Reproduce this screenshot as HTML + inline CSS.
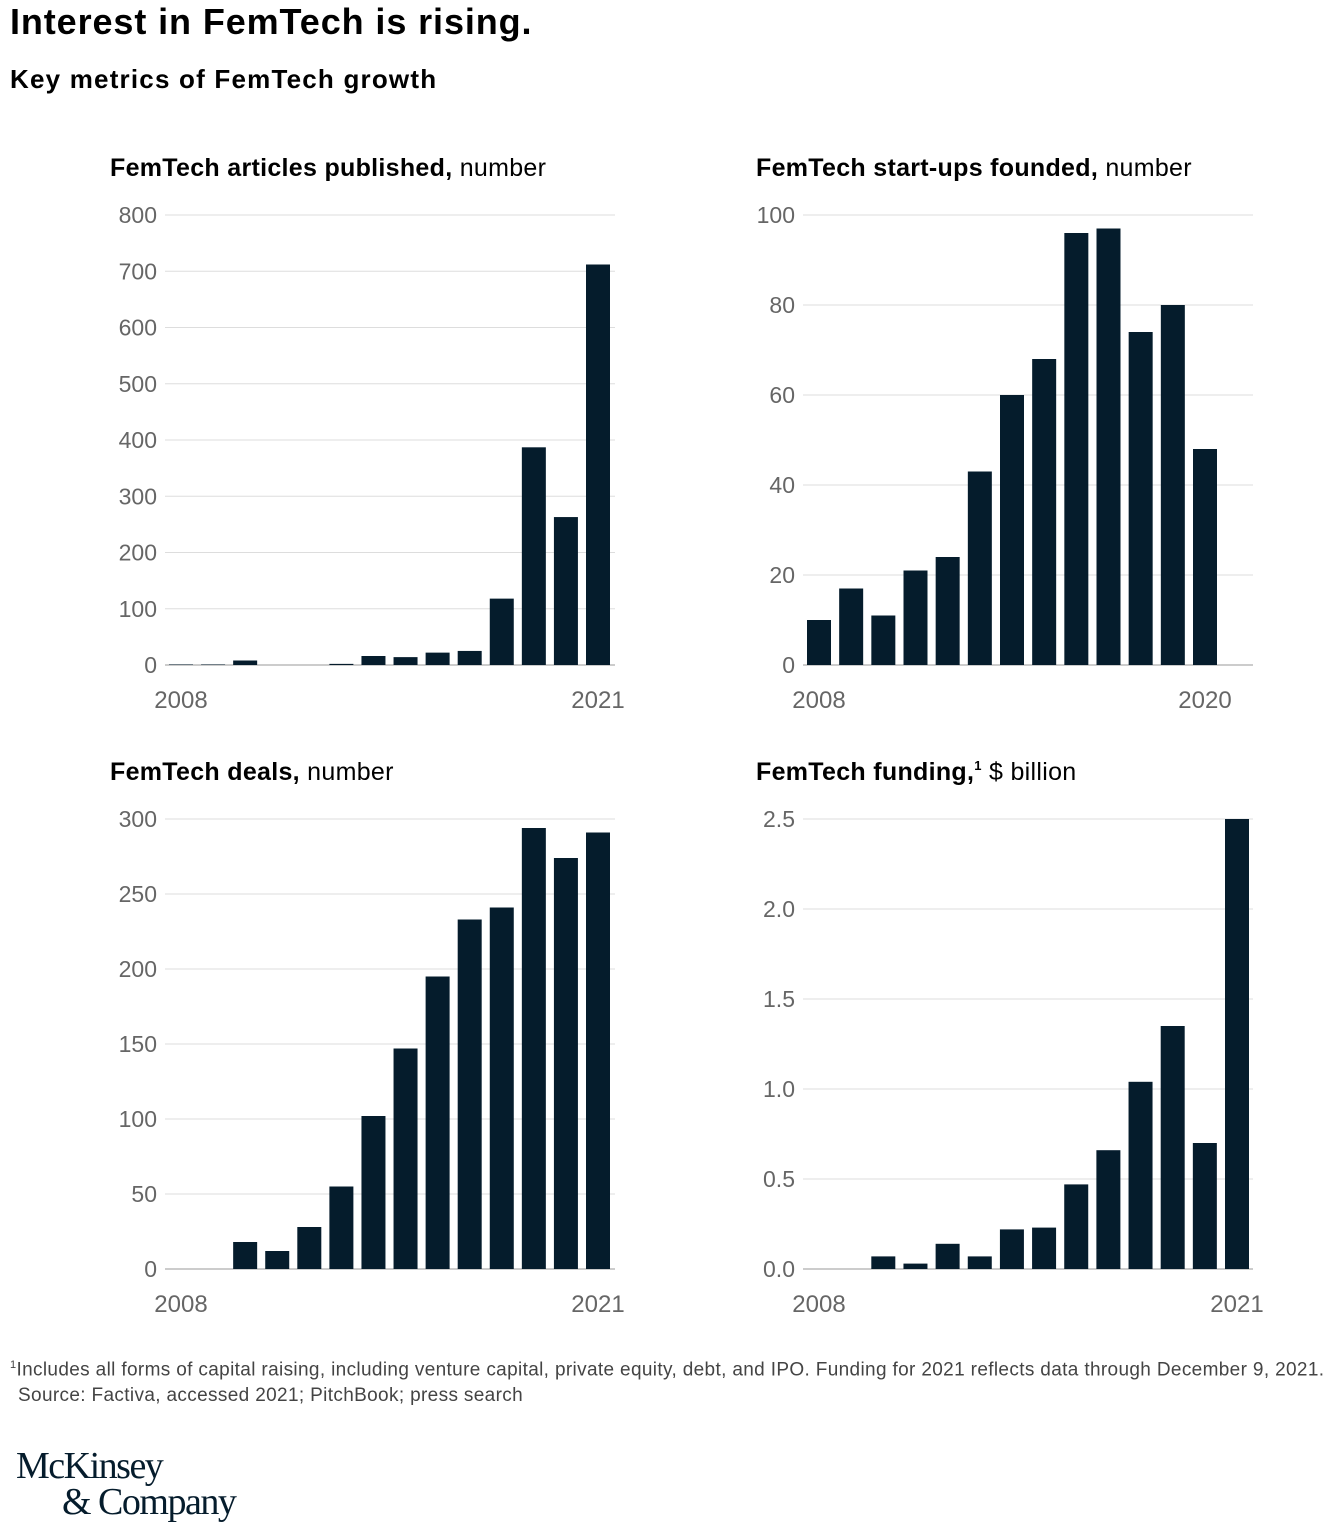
<!DOCTYPE html>
<html><head><meta charset="utf-8">
<style>
body{margin:0;width:1340px;height:1536px;background:#fff;font-family:"Liberation Sans",sans-serif;color:#000;position:relative;overflow:hidden}
.t{position:absolute;white-space:nowrap}
svg{position:absolute;left:0;top:0}
</style></head><body>
<div class="t" style="left:10px;top:1px;font-size:36px;font-weight:bold;letter-spacing:0.9px">Interest in FemTech is rising.</div>
<div class="t" style="left:10px;top:64px;font-size:26px;font-weight:bold;letter-spacing:1.2px">Key metrics of FemTech growth</div>
<svg id="chart" width="1340" height="1536"></svg>
<div class="t" style="left:10px;top:1359px;font-size:19px;color:#444;letter-spacing:0.35px"><sup style="font-size:11px">1</sup>Includes all forms of capital raising, including venture capital, private equity, debt, and IPO. Funding for 2021 reflects data through December 9, 2021.</div>
<div class="t" style="left:18px;top:1385px;font-size:19px;color:#444;letter-spacing:0.35px">Source: Factiva, accessed 2021; PitchBook; press search</div>
<div class="t" style="left:16px;top:1444px;font-family:'Liberation Serif',serif;font-size:38px;color:#051c2c;letter-spacing:-1.5px">McKinsey</div>
<div class="t" style="left:62px;top:1480px;font-family:'Liberation Serif',serif;font-size:38px;color:#051c2c;letter-spacing:-1.5px">&amp; Company</div>
<script>
const articlesYears=[2008,2009,2010,2011,2012,2013,2014,2015,2016,2017,2018,2019,2020,2021];
const articlesValues=[1,1,8,0,0,2,16,14,22,25,118,387,263,712];
const articlesTicks=[0,100,200,300,400,500,600,700,800];
const startupYears=[2008,2009,2010,2011,2012,2013,2014,2015,2016,2017,2018,2019,2020];
const startupValues=[10,17,11,21,24,43,60,68,96,97,74,80,48];
const startupTicks=[0,20,40,60,80,100];
const dealsYears=[2008,2009,2010,2011,2012,2013,2014,2015,2016,2017,2018,2019,2020,2021];
const dealsValues=[0,0,18,12,28,55,102,147,195,233,241,294,274,291];
const dealsTicks=[0,50,100,150,200,250,300];
const fundingYears=[2008,2009,2010,2011,2012,2013,2014,2015,2016,2017,2018,2019,2020,2021];
const fundingValues=[0,0,0.07,0.03,0.14,0.07,0.22,0.23,0.47,0.66,1.04,1.35,0.70,2.50];
const fundingTicks=["0.0","0.5","1.0","1.5","2.0","2.5"];
const svg=document.getElementById('chart');
const NS='http://www.w3.org/2000/svg';
function mk(tag,attrs,parent){const e=document.createElementNS(NS,tag);for(const k in attrs)e.setAttribute(k,attrs[k]);(parent||svg).appendChild(e);return e;}
function panel(cfg){
  const g=mk('g',{});
  
  
  const max=parseFloat(cfg.ticks[cfg.ticks.length-1]);
  const y=v=>cfg.y0-(v/max)*(cfg.y0-cfg.yTop);
  const step=(cfg.lastC-cfg.firstC)/(cfg.years.length-1);
  const x=i=>cfg.firstC+i*step;
  const ttl=mk('text',{x:cfg.tx,y:cfg.ty,'font-size':25,'letter-spacing':0.3,'font-family':'Liberation Sans, sans-serif'},g);
  
  
  const b=mk('tspan',{'font-weight':'bold'},ttl);b.textContent=cfg.bold;
  if(cfg.sup){const s=mk('tspan',{'font-weight':'bold','font-size':13,dy:-10},ttl);s.textContent='1';const r=mk('tspan',{dy:10},ttl);r.textContent=cfg.rest;}
  else{const r=mk('tspan',{},ttl);r.textContent=cfg.rest;}
  cfg.ticks.forEach(t=>{
    const v=parseFloat(t);
    const l=mk('line',{x1:cfg.ax0,x2:cfg.ax1,y1:y(v),y2:y(v),stroke:v===0?'#999':'#ddd','stroke-width':1},g);
    
    
    const tx=mk('text',{x:cfg.ax0-8,y:y(v)+8,'text-anchor':'end','font-size':23,fill:'#666'},g);
    
    
    tx.textContent=t;
  });
  cfg.values.forEach((v,i)=>{
    const r=mk('rect',{x:x(i)-12,y:y(v),width:24,height:cfg.y0-y(v),fill:'#051c2c'},g);
    
    
  });
  [0,cfg.years.length-1].forEach(i=>{
    const tx=mk('text',{x:x(i),y:cfg.y0+43,'text-anchor':'middle','font-size':24,fill:'#666'},g);
    
    
    tx.textContent=cfg.years[i];
  });
}
panel({name:'articles-chart',years:articlesYears,values:articlesValues,ticks:articlesTicks,y0:665,yTop:215,ax0:165,ax1:615,firstC:181,lastC:598,tx:110,ty:176,bold:'FemTech articles published,',rest:' number'});
panel({name:'startups-chart',years:startupYears,values:startupValues,ticks:startupTicks,y0:665,yTop:215,ax0:803,ax1:1253,firstC:819,lastC:1205,tx:756,ty:176,bold:'FemTech start-ups founded,',rest:' number'});
panel({name:'deals-chart',years:dealsYears,values:dealsValues,ticks:dealsTicks,y0:1269,yTop:819,ax0:165,ax1:615,firstC:181,lastC:598,tx:110,ty:780,bold:'FemTech deals,',rest:' number'});
panel({name:'funding-chart',years:fundingYears,values:fundingValues,ticks:fundingTicks,y0:1269,yTop:819,ax0:803,ax1:1253,firstC:819,lastC:1237,tx:756,ty:780,bold:'FemTech funding,',rest:' $ billion',sup:true});
</script>
</body></html>
